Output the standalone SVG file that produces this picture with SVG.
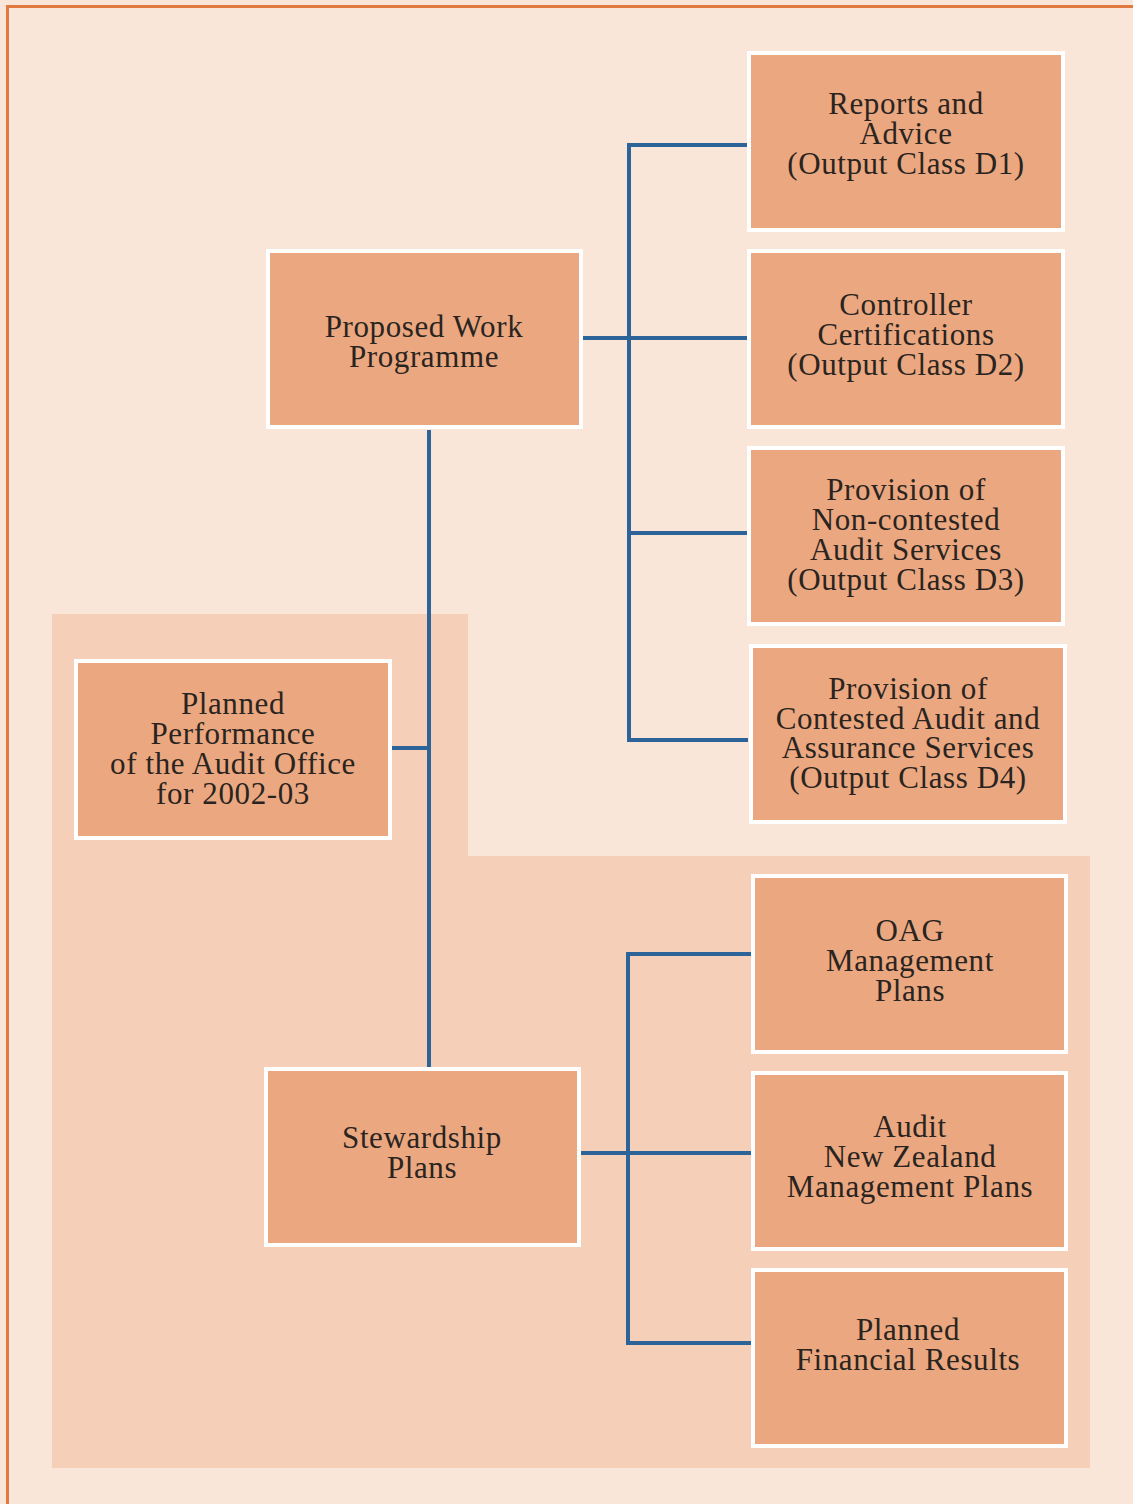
<svg xmlns="http://www.w3.org/2000/svg" width="1133" height="1504" viewBox="0 0 1133 1504">
<style>
.box{fill:#EBA880;stroke:#FFFFFF;stroke-width:4}
.t{font-family:"Liberation Serif","Times New Roman",serif;font-size:31px;letter-spacing:0.6px;fill:#2A2420;text-anchor:middle}
.c{fill:none;stroke:#2C6399;stroke-width:4}
</style>
<rect x="0" y="0" width="1133" height="1504" fill="#F9E6D8"/>
<path d="M7.5 1504 V6.5 H1133" fill="none" stroke="#E07A40" stroke-width="3"/>
<path d="M52 614 H468 V856 H1090 V1468 H52 Z" fill="#F5CFB8"/>
<g id="connectors">
<path class="c" d="M748 145 H629 V740 H748"/>
<path class="c" d="M583 338 H748"/>
<path class="c" d="M629 533 H748"/>
<path class="c" d="M429 430 V1067"/>
<path class="c" d="M392 748 H429"/>
<path class="c" d="M751 954 H628 V1343 H751"/>
<path class="c" d="M581 1153 H751"/>
</g>
<g id="reports"><rect class="box" x="749" y="53" width="314" height="177"/><text class="t"><tspan x="906" y="114">Reports and</tspan><tspan x="906" y="144">Advice</tspan><tspan x="906" y="174">(Output Class D1)</tspan></text></g>
<g id="controller"><rect class="box" x="749" y="251" width="314" height="176"/><text class="t"><tspan x="906" y="315">Controller</tspan><tspan x="906" y="345">Certifications</tspan><tspan x="906" y="375">(Output Class D2)</tspan></text></g>
<g id="noncontested"><rect class="box" x="749" y="448" width="314" height="176"/><text class="t"><tspan x="906" y="500">Provision of</tspan><tspan x="906" y="530">Non-contested</tspan><tspan x="906" y="560">Audit Services</tspan><tspan x="906" y="590">(Output Class D3)</tspan></text></g>
<g id="contested"><rect class="box" x="751" y="646" width="314" height="176"/><text class="t"><tspan x="908" y="699">Provision of</tspan><tspan x="908" y="729">Contested Audit and</tspan><tspan x="908" y="758">Assurance Services</tspan><tspan x="908" y="788">(Output Class D4)</tspan></text></g>
<g id="proposed"><rect class="box" x="268" y="251" width="313" height="176"/><text class="t"><tspan x="424" y="337">Proposed Work</tspan><tspan x="424" y="367">Programme</tspan></text></g>
<g id="planned-performance"><rect class="box" x="76" y="661" width="314" height="177"/><text class="t"><tspan x="233" y="714">Planned</tspan><tspan x="233" y="744">Performance</tspan><tspan x="233" y="774">of the Audit Office</tspan><tspan x="233" y="804">for 2002-03</tspan></text></g>
<g id="stewardship"><rect class="box" x="266" y="1069" width="313" height="176"/><text class="t"><tspan x="422" y="1148">Stewardship</tspan><tspan x="422" y="1178">Plans</tspan></text></g>
<g id="oag"><rect class="box" x="753" y="876" width="313" height="176"/><text class="t"><tspan x="910" y="941">OAG</tspan><tspan x="910" y="971">Management</tspan><tspan x="910" y="1001">Plans</tspan></text></g>
<g id="audit-nz"><rect class="box" x="753" y="1073" width="313" height="176"/><text class="t"><tspan x="910" y="1137">Audit</tspan><tspan x="910" y="1167">New Zealand</tspan><tspan x="910" y="1197">Management Plans</tspan></text></g>
<g id="financial"><rect class="box" x="753" y="1270" width="313" height="176"/><text class="t"><tspan x="908" y="1340">Planned</tspan><tspan x="908" y="1370">Financial Results</tspan></text></g>
</svg>
